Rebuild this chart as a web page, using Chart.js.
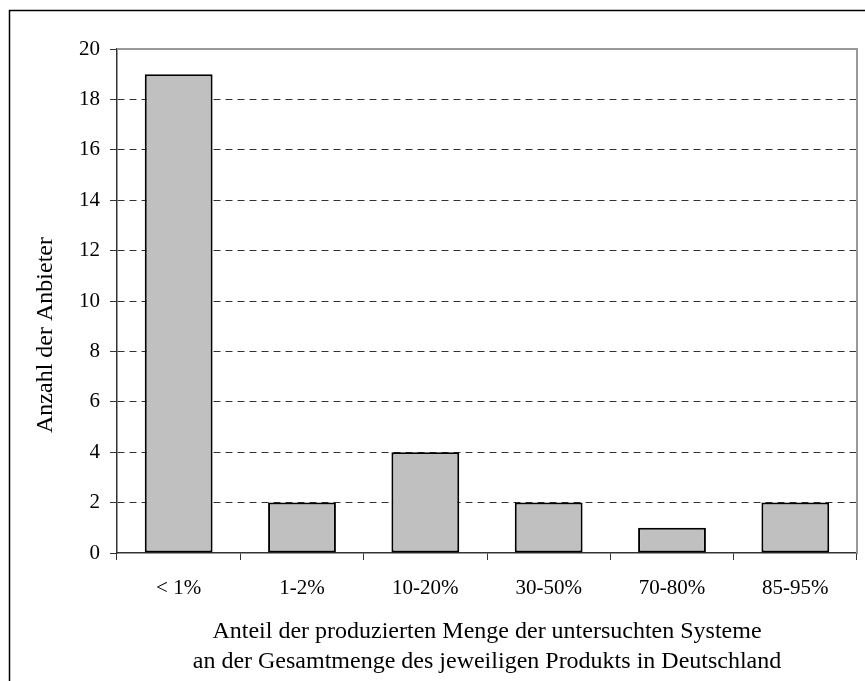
<!DOCTYPE html>
<html>
<head>
<meta charset="utf-8">
<script src="https://cdn.jsdelivr.net/npm/chart.js@4"></script>
<style>
  html, body { margin: 0; padding: 0; background: #fff; }
  #wrap { width: 865px; height: 681px; }
</style>
</head>
<body>
<div id="wrap"><canvas id="chart" width="865" height="681"></canvas></div>
<script>
// Kategorien und Werte
const categories = ["< 1%", "1-2%", "10-20%", "30-50%", "70-80%", "85-95%"];
const anbieter = [19, 2, 4, 2, 1, 2];
const yTitle = "Anzahl der Anbieter";
const xTitle = [
  "Anteil der produzierten Menge der untersuchten Systeme",
  "an der Gesamtmenge des jeweiligen Produkts in Deutschland"
];

const FONT = "'Liberation Serif', 'Times New Roman', serif";

// Rahmen um das ganze Bild + graue Linien oben/rechts am Plotbereich
const framePlugin = {
  id: 'frame',
  beforeDraw(chart) {
    const ctx = chart.ctx;
    ctx.save();
    ctx.fillStyle = '#fff';
    ctx.fillRect(0, 0, chart.width, chart.height);
    ctx.strokeStyle = '#000';
    ctx.lineWidth = 1.5;
    ctx.strokeRect(9.5, 10.5, chart.width + 20, chart.height + 20);
    ctx.restore();
  },
  beforeDatasetsDraw(chart) {
    const { ctx, chartArea: a } = chart;
    ctx.save();
    ctx.strokeStyle = '#999';
    ctx.lineWidth = 2;
    ctx.beginPath();
    ctx.moveTo(a.left, a.top);
    ctx.lineTo(a.right, a.top);
    ctx.lineTo(a.right, a.bottom);
    ctx.stroke();
    ctx.restore();
  },
  // y-Achsentitel etwas unterhalb der Mitte, wie im Original
  afterDraw(chart) {
    const { ctx, chartArea: a } = chart;
    ctx.save();
    ctx.translate(46, (a.top + a.bottom) / 2 + 34);
    ctx.rotate(-Math.PI / 2);
    ctx.font = `24px ${FONT}`;
    ctx.fillStyle = '#000';
    ctx.textAlign = 'center';
    ctx.textBaseline = 'middle';
    ctx.fillText(yTitle, 0, 0);
    ctx.restore();
  }
};

new Chart(document.getElementById('chart'), {
  type: 'bar',
  data: {
    labels: categories,
    datasets: [{
      data: anbieter,
      backgroundColor: '#c0c0c0',
      borderColor: '#000',
      borderWidth: 2,
      borderSkipped: false,
      categoryPercentage: 1.0,
      barPercentage: 0.55
    }]
  },
  options: {
    responsive: false,
    animation: false,
    layout: { padding: { top: 49, right: 8, bottom: 0, left: 0 } },
    plugins: { legend: { display: false }, tooltip: { enabled: false } },
    scales: {
      x: {
        afterFit(scale) { scale.height = 128; },
        grid: {
          offset: true,
          drawOnChartArea: false,
          tickLength: 7,
          tickColor: '#333',
          tickWidth: 1
        },
        border: { color: '#333', width: 1.5 },
        ticks: {
          color: '#000',
          padding: 16,
          font: { family: FONT, size: 21 }
        },
        title: {
          display: true,
          text: xTitle,
          color: '#000',
          font: { family: FONT, size: 24, lineHeight: '30px' },
          padding: { top: 0, bottom: 4 }
        }
      },
      y: {
        min: 0,
        max: 20,
        afterFit(scale) { scale.width = 117; },
        ticks: {
          stepSize: 2,
          color: '#000',
          padding: 10,
          font: { family: FONT, size: 21 }
        },
        grid: {
          color: ctx => (ctx.tick && (ctx.tick.value === 0 || ctx.tick.value === 20)) ? 'rgba(0,0,0,0)' : '#333',
          lineWidth: 1,
          tickLength: 7,
          tickColor: '#333',
          tickWidth: 1,
          tickBorderDash: []
        },
        border: { color: '#333', width: 1.5, dash: [7, 5] },
        title: { display: false }
      }
    }
  },
  plugins: [framePlugin]
});
</script>
</body>
</html>
